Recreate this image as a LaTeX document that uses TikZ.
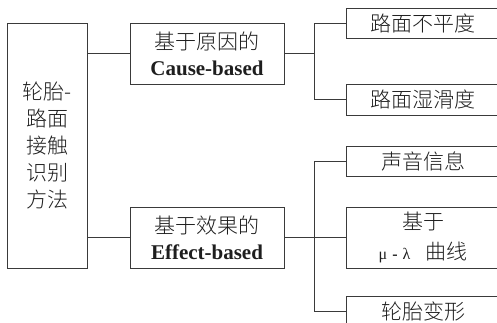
\documentclass[tikz,border=0pt]{standalone}
\usepackage{fontspec}
\setmainfont{Liberation Serif}
\newfontfamily\cjk{Noto Sans CJK SC}[UprightFont={* Light}]
\definecolor{ink}{HTML}{1E1E1E}
\definecolor{rule}{HTML}{3A3A3A}
\tikzset{
  box/.style={draw=rule, line width=0.9pt, rectangle, inner sep=0pt,
    align=center, text=ink, font=\fontsize{21}{26}\selectfont},
  link/.style={draw=rule, line width=0.9pt},
}
\begin{document}
\begin{tikzpicture}[x=1pt, y=-1pt]
\useasboundingbox (0,0) rectangle (497,323);
\clip (0,0) rectangle (497,323);
% root
\node[box, minimum width=80pt, minimum height=245pt, font=\fontsize{21}{27}\selectfont]
  (root) at (47,145.5) {\cjk 轮胎-\\\cjk 路面\\\cjk 接触\\\cjk 识别\\\cjk 方法};
% two families of methods
\node[box, minimum width=154pt, minimum height=61pt] (cause) at (207,53.5)
  {\cjk 基于原因的\\\textbf{Cause-based}};
\node[box, minimum width=154pt, minimum height=61pt] (effect) at (207,237.5)
  {\cjk 基于效果的\\\textbf{Effect-based}};
% leaves
\node[box, minimum width=154pt, minimum height=30pt] (c1) at (423,23) {\cjk 路面不平度};
\node[box, minimum width=154pt, minimum height=31pt] (c2) at (423,99.5) {\cjk 路面湿滑度};
\node[box, minimum width=154pt, minimum height=30pt] (e1) at (423,161) {\cjk 声音信息};
\node[box, minimum width=154pt, minimum height=61pt, font=\fontsize{21}{30}\selectfont] (e2) at (423,237.5)
  {\cjk 基于\\{\fontsize{16}{20}\selectfont μ\hspace{5pt}\textbf{-}\hspace{5pt}λ}\hspace{15pt}{\cjk 曲线}};
\node[box, minimum width=154pt, minimum height=31pt] (e3) at (423,311.5) {\cjk 轮胎变形};
% connectors
\draw[link] (cause.west) -- (cause.west -| root.east);
\draw[link] (effect.west) -- (effect.west -| root.east);
\coordinate (cj) at (314,53.5);
\coordinate (ej) at (314,237.5);
\draw[link] (cause.east) -- (cj);
\draw[link] (c1.west) -- (c1.west -| cj) -- (c2.west -| cj) -- (c2.west);
\draw[link] (effect.east) -- (ej);
\draw[link] (e1.west) -- (e1.west -| ej) -- (e3.west -| ej) -- (e3.west);
\draw[link] (ej) -- (e2.west);
\end{tikzpicture}
\end{document}
